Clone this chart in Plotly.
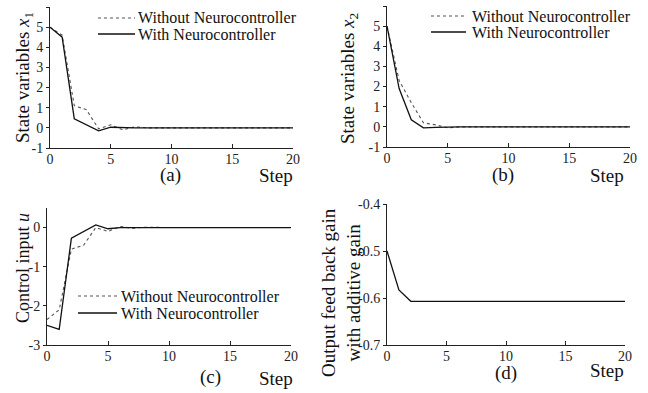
import plotly.graph_objects as go

W, H = 648, 393

steps = list(range(21))

# (a) state x1
x1_without = [5, 4.6, 1.1, 0.9, -0.05, 0.15, -0.1, 0.05, 0, 0, 0, 0, 0, 0, 0, 0, 0, 0, 0, 0, 0]
x1_with = [5, 4.5, 0.45, 0.15, -0.15, 0.03, 0, 0, 0, 0, 0, 0, 0, 0, 0, 0, 0, 0, 0, 0, 0]
# (b) state x2
x2_without = [5, 2.3, 1.2, 0.2, 0.1, -0.05, 0, 0, 0, 0, 0, 0, 0, 0, 0, 0, 0, 0, 0, 0, 0]
x2_with = [5, 1.9, 0.35, -0.05, -0.03, 0, 0, 0, 0, 0, 0, 0, 0, 0, 0, 0, 0, 0, 0, 0, 0]
# (c) control input u
u_without = [-2.35, -2.1, -0.55, -0.45, 0.0, -0.1, 0.03, -0.02, 0.01, 0, 0, 0, 0, 0, 0, 0, 0, 0, 0, 0, 0]
u_with = [-2.5, -2.6, -0.27, -0.1, 0.07, -0.03, 0, 0, 0, 0, 0, 0, 0, 0, 0, 0, 0, 0, 0, 0, 0]
# (d) gain
gain = [-0.5, -0.583, -0.607, -0.607, -0.607, -0.607, -0.607, -0.607, -0.607, -0.607, -0.607,
        -0.607, -0.607, -0.607, -0.607, -0.607, -0.607, -0.607, -0.607, -0.607, -0.607]

x_ticks = [0, 5, 10, 15, 20]
x_ticklabels = ["0", "5", "10", "15", "20"]
xs_ticks = [-1, 0, 1, 2, 3, 4, 5, 6]
xs_ticklabels = ["-1", "0", "1", "2", "3", "4", "5", "6"]
u_ticks = [-3, -2, -1, 0]
u_ticklabels = ["-3", "-2", "-1", "0"]
g_ticks = [-0.7, -0.6, -0.5, -0.4]
g_ticklabels = ["-0.7", "-0.6", "-0.5", "-0.4"]

legend_labels = ["Without Neurocontroller", "With Neurocontroller"]

FONT = "Liberation Serif"
AX = "#222222"
DOT = dict(color="#555555", width=1.1, dash="dot")
SOL = dict(color="#111111", width=1.3)


def px(x):
    return x / W


def py(y):
    return 1 - y / H


fig = go.Figure()

fig.add_trace(go.Scatter(x=steps, y=x1_without, mode="lines", line=DOT, xaxis="x", yaxis="y", showlegend=False))
fig.add_trace(go.Scatter(x=steps, y=x1_with, mode="lines", line=SOL, xaxis="x", yaxis="y", showlegend=False))
fig.add_trace(go.Scatter(x=steps, y=x2_without, mode="lines", line=DOT, xaxis="x2", yaxis="y2", showlegend=False))
fig.add_trace(go.Scatter(x=steps, y=x2_with, mode="lines", line=SOL, xaxis="x2", yaxis="y2", showlegend=False))
fig.add_trace(go.Scatter(x=steps, y=u_without, mode="lines", line=DOT, xaxis="x3", yaxis="y3", showlegend=False))
fig.add_trace(go.Scatter(x=steps, y=u_with, mode="lines", line=SOL, xaxis="x3", yaxis="y3", showlegend=False))
fig.add_trace(go.Scatter(x=steps, y=gain, mode="lines", line=SOL, xaxis="x4", yaxis="y4", showlegend=False))


def xaxis(dom, anchor):
    return dict(domain=dom, anchor=anchor, range=[0, 20], tickvals=x_ticks, ticktext=x_ticklabels,
                showline=True, linecolor=AX, linewidth=1, ticks="inside", ticklen=4, tickcolor=AX,
                showgrid=False, zeroline=False, automargin=False, ticklabelstandoff=-2,
                tickfont=dict(family=FONT, size=14, color="#222"))


def yaxis(dom, anchor, rng, tv, tt):
    return dict(domain=dom, anchor=anchor, range=rng, tickvals=tv, ticktext=tt,
                showline=True, linecolor=AX, linewidth=1, ticks="outside", ticklen=3, tickcolor=AX,
                showgrid=False, zeroline=False, automargin=False,
                tickfont=dict(family=FONT, size=14, color="#222"))


fig.update_layout(
    width=W, height=H, margin=dict(l=0, r=0, t=0, b=0, autoexpand=False),
    paper_bgcolor="white", plot_bgcolor="white",
    font=dict(family=FONT),
    xaxis=xaxis([px(50), px(293)], "y"),
    yaxis=yaxis([py(148), py(7)], "x", [-1, 6], xs_ticks, xs_ticklabels),
    xaxis2=xaxis([px(387), px(630)], "y2"),
    yaxis2=yaxis([py(147), py(6)], "x2", [-1, 6], xs_ticks, xs_ticklabels),
    xaxis3=xaxis([px(47), px(291)], "y3"),
    yaxis3=yaxis([py(345), py(208)], "x3", [-3, 0.5], u_ticks, u_ticklabels),
    xaxis4=xaxis([px(387), px(625)], "y4"),
    yaxis4=yaxis([py(345), py(204)], "x4", [-0.7, -0.4], g_ticks, g_ticklabels),
)

anns = []


def txt(x, y, s, size, angle=0, xanchor="center"):
    anns.append(dict(x=px(x), y=py(y), xref="paper", yref="paper", text=s, showarrow=False,
                     textangle=angle, xanchor=xanchor, yanchor="middle",
                     font=dict(family=FONT, size=size, color="#111")))


# axis titles
txt(24, 78, "State variables <i>x</i><sub>1</sub>", 19, -90)
txt(349, 78, "State variables <i>x</i><sub>2</sub>", 19, -90)
txt(23, 268, "Control input <i>u</i>", 18, -90)
txt(341, 293, "Output feed back gain<br>with additive gain", 19, -90)

# panel labels and Step
txt(170, 175, "(a)", 19)
txt(276, 175, "Step", 19)
txt(503, 175, "(b)", 19)
txt(607, 175, "Step", 19)
txt(210, 377, "(c)", 19)
txt(276, 378, "Step", 19)
txt(506, 373, "(d)", 19)
txt(607, 370, "Step", 19)

shapes = []


def legend(x0, x1, xt, y1, y2):
    shapes.append(dict(type="line", xref="paper", yref="paper", x0=px(x0), x1=px(x1), y0=py(y1), y1=py(y1),
                       line=DOT))
    shapes.append(dict(type="line", xref="paper", yref="paper", x0=px(x0), x1=px(x1), y0=py(y2), y1=py(y2),
                       line=SOL))
    txt(xt, y1, legend_labels[0], 16, xanchor="left")
    txt(xt, y2, legend_labels[1], 16, xanchor="left")


legend(98, 135, 136, 18, 34)
legend(431, 466, 470, 16, 32)
legend(78, 117, 119, 296, 313)

fig.update_layout(annotations=anns, shapes=shapes)

fig.write_html("out.html", config={"displayModeBar": False},
               post_script="document.body.style.margin='0px';")
